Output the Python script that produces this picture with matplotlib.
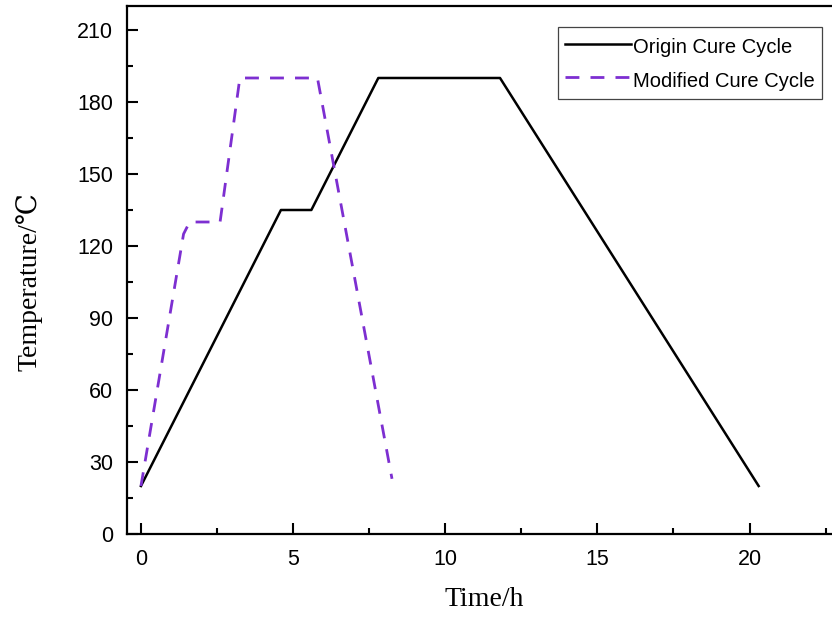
import matplotlib
matplotlib.use("Agg")
import matplotlib.pyplot as plt
from matplotlib.ticker import MultipleLocator

# cure cycle profiles: time (h) vs temperature (degC)
origin_time = [0, 4.6, 5.6, 7.8, 11.8, 20.3]
origin_temp = [20, 135, 135, 190, 190, 20]

modified_time = [0, 1.4, 1.6, 2.6, 3.25, 5.8, 8.25]
modified_temp = [20, 125, 130, 130, 190, 190, 23]

x_ticks = [0, 5, 10, 15, 20]
y_ticks = [0, 30, 60, 90, 120, 150, 180, 210]

plt.rcParams['font.family'] = ['Liberation Sans', 'DejaVu Sans']

fig = plt.figure(figsize=(8.32, 6.17), dpi=100)
ax = fig.add_axes([0.1526, 0.1345, 0.858, 0.8558])

ax.plot(origin_time, origin_temp, color='black', lw=1.8, label='Origin Cure Cycle')
ax.plot(modified_time, modified_temp, color='#7d2fd1', lw=2.0,
        dashes=(5, 4), label='Modified Cure Cycle')

ax.set_xlim(-0.46, 23.0)
ax.set_ylim(0, 220)
ax.set_xticks(x_ticks)
ax.set_yticks(y_ticks)
ax.xaxis.set_minor_locator(MultipleLocator(2.5))
ax.yaxis.set_minor_locator(MultipleLocator(15))
ax.tick_params(which='major', direction='in', length=8, width=1.5, labelsize=15.5)
ax.tick_params(axis='x', which='major', pad=11)
ax.tick_params(axis='y', which='major', pad=10)
ax.tick_params(which='minor', direction='in', length=4.5, width=1.5)
for side in ax.spines.values():
    side.set_linewidth(1.6)

serif = ['Liberation Serif', 'DejaVu Serif']
ax.set_xlabel('Time/h', family=serif, fontsize=20)
ax.set_ylabel('Temperature/℃', family=serif, fontsize=20)
ax.xaxis.set_label_coords(0.5, -0.100)
ax.yaxis.set_label_coords(-0.118, 0.479)

leg = ax.legend(loc='upper left', bbox_to_anchor=(0.6036, 0.960), fontsize=14.5,
                handlelength=3.3, handleheight=1.5, handletextpad=0.1,
                borderpad=0.35, labelspacing=0.45, borderaxespad=0,
                fancybox=False, framealpha=1)
leg.get_frame().set_edgecolor('#444444')
leg.get_frame().set_linewidth(0.9)

fig.savefig('out.png', dpi=100)
